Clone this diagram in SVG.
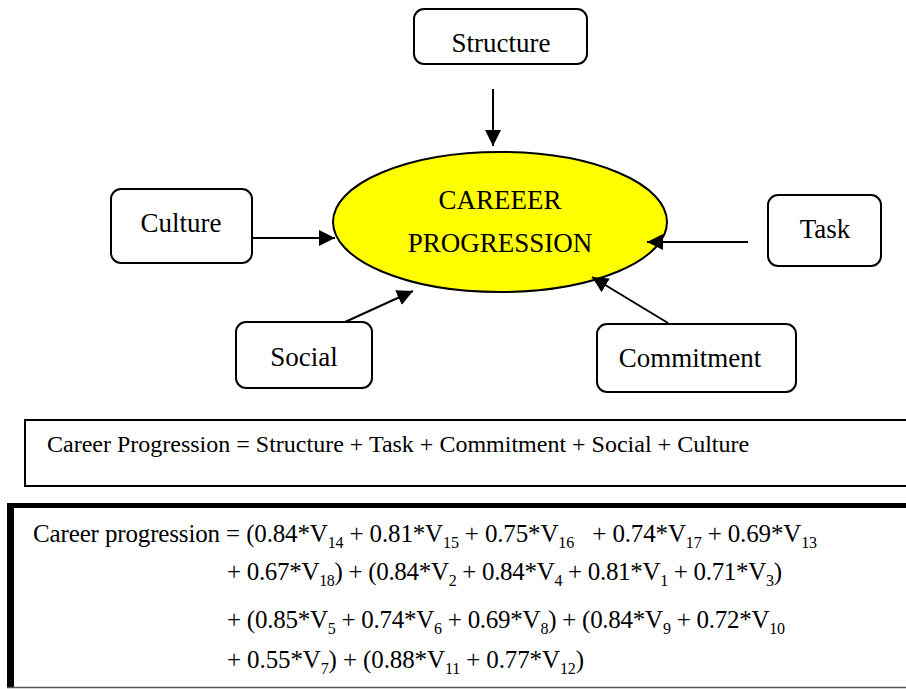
<svg xmlns="http://www.w3.org/2000/svg" width="906" height="689" viewBox="0 0 906 689">
<style>
  .box { fill: #ffffff; stroke: #000000; stroke-width: 2; }
  .lbl { font-family: "Liberation Serif", "Times New Roman", serif; font-size: 27px; fill: #000000; text-anchor: middle; }
  .conn { stroke: #000000; stroke-width: 2; fill: none; marker-end: url(#arrow); }
  .eq { font-family: "Liberation Serif", "Times New Roman", serif; font-size: 25px; fill: #000000; white-space: pre; }
  .s { font-size: 16px; }
</style>
<defs>
  <marker id="arrow" markerWidth="8" markerHeight="8" refX="8" refY="4" orient="auto" markerUnits="strokeWidth">
    <path d="M0,0 L8,4 L0,8 Z" fill="#000000"/>
  </marker>
</defs>
<rect width="906" height="689" fill="#ffffff"/>

<g id="career-progression">
  <ellipse cx="500" cy="222" rx="167" ry="70" fill="#ffff00" stroke="#000000" stroke-width="2"/>
  <text class="lbl" x="500" y="209">CAREEER</text>
  <text class="lbl" x="500" y="252">PROGRESSION</text>
</g>
<g id="structure">
  <rect class="box" x="414" y="9" width="173" height="55" rx="10"/>
  <text class="lbl" x="501" y="52">Structure</text>
</g>
<g id="culture">
  <rect class="box" x="111" y="189" width="141" height="74" rx="10"/>
  <text class="lbl" x="181" y="232">Culture</text>
</g>
<g id="task">
  <rect class="box" x="768" y="195" width="113" height="71" rx="10"/>
  <text class="lbl" x="825" y="238">Task</text>
</g>
<g id="social">
  <rect class="box" x="236" y="322" width="136" height="66" rx="10"/>
  <text class="lbl" x="304" y="366">Social</text>
</g>
<g id="commitment">
  <rect class="box" x="597" y="324" width="199" height="68" rx="10"/>
  <text class="lbl" x="690" y="367">Commitment</text>
</g>

<g id="connectors">
  <line class="conn" x1="493" y1="89" x2="493" y2="146"/>
  <line class="conn" x1="252" y1="238" x2="335" y2="238"/>
  <line class="conn" x1="748" y1="242" x2="647" y2="242"/>
  <line class="conn" x1="668" y1="323" x2="592" y2="277"/>
  <line class="conn" x1="345" y1="322" x2="413" y2="291"/>
</g>

<g id="formula-box">
  <rect x="25" y="420" width="900" height="66" fill="#ffffff" stroke="#000000" stroke-width="2"/>
  <text x="47" y="452" style="font-family: 'Liberation Serif', 'Times New Roman', serif; font-size: 24px;">Career Progression = Structure + Task + Commitment + Social + Culture</text>
</g>

<g id="equation-box">
  <line x1="7" y1="505.5" x2="906" y2="505.5" stroke="#000000" stroke-width="5"/>
  <line x1="10.5" y1="503" x2="10.5" y2="688" stroke="#000000" stroke-width="7"/>
  <line x1="7" y1="687.5" x2="906" y2="687.5" stroke="#555555" stroke-width="1.5"/>
  <text class="eq" x="33" y="542" textLength="784" lengthAdjust="spacing">Career progression = (0.84*V<tspan class="s" dy="6">14</tspan><tspan dy="-6"> + 0.81*V</tspan><tspan class="s" dy="6">15</tspan><tspan dy="-6"> + 0.75*V</tspan><tspan class="s" dy="6">16</tspan><tspan dy="-6">   + 0.74*V</tspan><tspan class="s" dy="6">17</tspan><tspan dy="-6"> + 0.69*V</tspan><tspan class="s" dy="6">13</tspan></text>
  <text class="eq" x="227" y="580" textLength="555" lengthAdjust="spacing">+ 0.67*V<tspan class="s" dy="6">18</tspan><tspan dy="-6">) + (0.84*V</tspan><tspan class="s" dy="6">2</tspan><tspan dy="-6"> + 0.84*V</tspan><tspan class="s" dy="6">4</tspan><tspan dy="-6"> + 0.81*V</tspan><tspan class="s" dy="6">1</tspan><tspan dy="-6"> + 0.71*V</tspan><tspan class="s" dy="6">3</tspan><tspan dy="-6">)</tspan></text>
  <text class="eq" x="227" y="628" textLength="558" lengthAdjust="spacing">+ (0.85*V<tspan class="s" dy="6">5</tspan><tspan dy="-6"> + 0.74*V</tspan><tspan class="s" dy="6">6</tspan><tspan dy="-6"> + 0.69*V</tspan><tspan class="s" dy="6">8</tspan><tspan dy="-6">) + (0.84*V</tspan><tspan class="s" dy="6">9</tspan><tspan dy="-6"> + 0.72*V</tspan><tspan class="s" dy="6">10</tspan></text>
  <text class="eq" x="227" y="668" textLength="357" lengthAdjust="spacing">+ 0.55*V<tspan class="s" dy="6">7</tspan><tspan dy="-6">) + (0.88*V</tspan><tspan class="s" dy="6">11</tspan><tspan dy="-6"> + 0.77*V</tspan><tspan class="s" dy="6">12</tspan><tspan dy="-6">)</tspan></text>
</g>
</svg>
